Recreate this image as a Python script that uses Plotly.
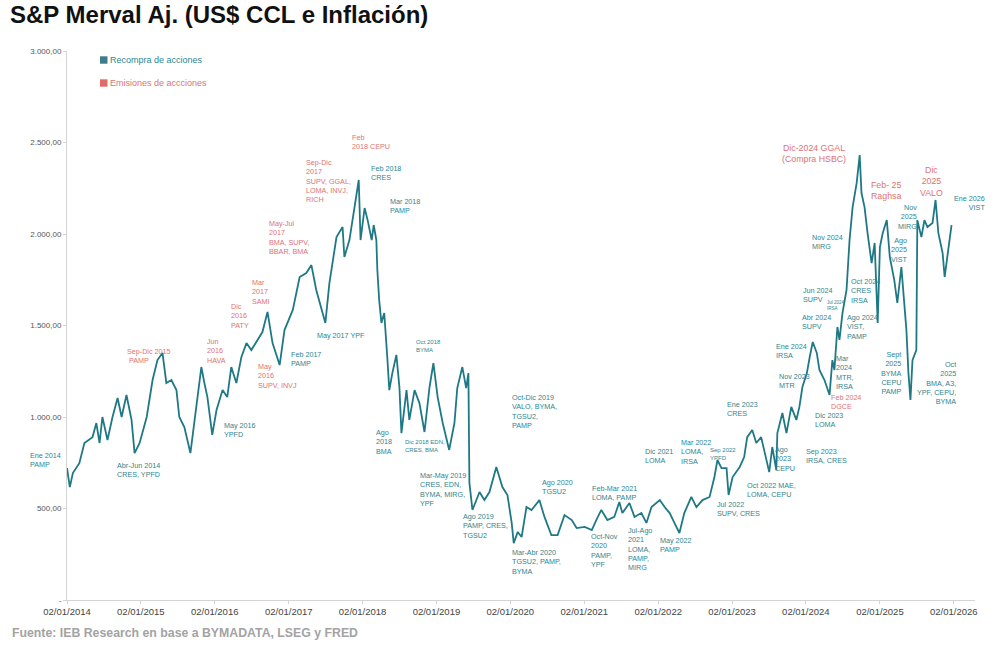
import plotly.graph_objects as go

# ---------------- data ----------------
DATES = [
    "2014-01-02", "2014-01-16", "2014-01-31", "2014-03-04", "2014-03-29", "2014-05-08", "2014-05-27",
    "2014-06-12", "2014-06-26", "2014-07-21", "2014-08-15", "2014-09-09", "2014-09-29", "2014-10-23",
    "2014-11-17", "2014-12-02", "2014-12-27", "2015-01-31", "2015-03-01", "2015-03-25", "2015-04-19",
    "2015-05-08", "2015-06-02", "2015-06-27", "2015-07-11", "2015-08-05", "2015-09-04", "2015-09-24",
    "2015-10-28", "2015-11-12", "2015-11-27", "2015-12-21", "2016-01-11", "2016-02-10", "2016-03-04",
    "2016-03-24", "2016-04-18", "2016-05-13", "2016-06-07", "2016-07-01", "2016-08-01", "2016-08-25",
    "2016-09-19", "2016-10-14", "2016-11-18", "2016-12-12", "2017-01-22", "2017-02-25", "2017-03-30",
    "2017-04-24", "2017-05-18", "2017-06-12", "2017-07-02", "2017-07-22", "2017-08-26", "2017-09-25",
    "2017-10-04", "2017-10-29", "2017-11-23", "2017-12-14", "2017-12-23", "2018-01-12", "2018-01-27",
    "2018-02-16", "2018-02-26", "2018-03-11", "2018-03-16", "2018-03-25", "2018-04-05", "2018-04-19",
    "2018-05-04", "2018-05-14", "2018-05-29", "2018-06-18", "2018-07-03", "2018-07-13", "2018-08-07",
    "2018-08-21", "2018-09-16", "2018-10-10", "2018-11-04", "2018-11-29", "2018-12-18", "2019-01-08",
    "2019-02-02", "2019-03-06", "2019-04-01", "2019-04-15", "2019-05-10", "2019-05-29", "2019-06-09",
    "2019-06-14", "2019-06-29", "2019-08-03", "2019-08-27", "2019-09-21", "2019-10-25", "2019-11-24",
    "2019-12-19", "2020-01-09", "2020-01-19", "2020-02-08", "2020-02-27", "2020-03-22", "2020-04-16",
    "2020-05-25", "2020-06-19", "2020-07-23", "2020-08-23", "2020-09-26", "2020-11-01", "2020-11-25",
    "2021-01-04", "2021-02-08", "2021-03-02", "2021-03-27", "2021-04-26", "2021-05-30", "2021-06-24",
    "2021-07-09", "2021-08-13", "2021-09-07", "2021-10-11", "2021-11-05", "2021-11-30", "2022-01-10",
    "2022-02-03", "2022-02-28", "2022-04-02", "2022-04-17", "2022-05-11", "2022-06-15", "2022-07-10",
    "2022-08-09", "2022-09-13", "2022-10-07", "2022-10-22", "2022-11-11", "2022-12-06", "2022-12-16",
    "2023-01-05", "2023-02-09", "2023-03-03", "2023-03-18", "2023-04-12", "2023-05-02", "2023-05-26",
    "2023-06-20", "2023-07-05", "2023-07-20", "2023-08-09", "2023-08-14", "2023-09-08", "2023-09-28",
    "2023-10-22", "2023-11-16", "2023-12-01", "2023-12-16", "2024-01-07", "2024-01-21", "2024-02-05",
    "2024-02-25", "2024-03-09", "2024-04-03", "2024-04-28", "2024-05-12", "2024-05-22", "2024-06-06",
    "2024-06-16", "2024-07-01", "2024-07-21", "2024-08-05", "2024-08-20", "2024-09-09", "2024-09-24",
    "2024-10-03", "2024-10-18", "2024-11-02", "2024-11-22", "2024-12-07", "2024-12-22", "2025-01-02",
    "2025-01-16", "2025-02-05", "2025-02-20", "2025-03-14", "2025-03-29", "2025-04-18", "2025-05-03",
    "2025-05-13", "2025-05-23", "2025-06-02", "2025-06-12", "2025-07-01", "2025-07-06", "2025-07-26",
    "2025-08-10", "2025-08-25", "2025-09-19", "2025-10-04", "2025-10-18", "2025-11-08", "2025-11-18",
    "2025-12-02", "2025-12-22",
]
MERVAL_USD = [
    721, 617, 694, 748, 858, 890, 967,
    858, 1000, 874, 1000, 1104, 1000, 1120,
    984, 803, 858, 1000, 1202, 1311, 1350,
    1186, 1202, 1147, 1000, 945, 803, 967,
    1273, 1186, 1109, 902, 1038, 1147, 1109,
    1273, 1186, 1328, 1404, 1366, 1421, 1464,
    1574, 1404, 1284, 1475, 1585, 1765, 1787,
    1830, 1694, 1601, 1514, 1732, 1983, 2038,
    1874, 1967, 2147, 2295, 1967, 2142, 2076,
    1967, 2049, 1967, 1803, 1639, 1514, 1568,
    1328, 1147, 1240, 1339, 1164, 912, 1147,
    984, 1147, 1076, 918, 1164, 1295, 1109,
    967, 820, 967, 1158, 1273, 1158, 1240,
    639, 492, 590, 546, 590, 727, 617,
    574, 421, 311, 372, 344, 508, 492,
    546, 454, 355, 355, 464, 437, 393,
    399, 382, 437, 492, 437, 454, 535,
    475, 530, 454, 475, 421, 508, 546,
    508, 475, 399, 366, 475, 563, 508,
    546, 563, 672, 765, 721, 721, 574,
    672, 727, 781, 890, 929, 858, 890,
    765, 699, 836, 710, 912, 1022, 912,
    1055, 984, 1055, 1164, 1240, 1328, 1410,
    1350, 1257, 1202, 1120, 1311, 1257, 1492,
    1421, 1568, 1694, 1967, 2147, 2278, 2431,
    2224, 2147, 2005, 1841, 1951, 1514, 1929,
    2005, 2076, 1874, 1748, 1623, 1819, 1639,
    1475, 1240, 1093, 1311, 1366, 2076, 1983,
    2076, 2038, 2060, 2186, 2005, 1896, 1765,
    1874, 2049,
]
YEAR_TICKS = list(range(2014, 2027))
Y_TICKS = [0, 500, 1000, 1500, 2000, 2500, 3000]
Y_TICKTEXT = ["-", "500,00", "1.000,00", "1.500,00", "2.000,00", "2.500,00", "3.000,00"]

TEAL_LINE = "#1f7985"
TEAL_TXT = "#2e8590"
RED_TXT = "#e07272"

# ---------------- layout helpers ----------------
L, R, T, B = 67, 975, 51, 600


def px(x):
    return (x - L) / (R - L)


def py(y):
    return (B - y) / (B - T)


FS = 7.2
# annotations: (text, x pixel, first-line center y pixel, colour, size, align)
NOTES = [
    ("Sep-Dic 2015<br>\u00a0PAMP", 127, 352, RED_TXT, FS, "left"),
    ("Jun<br>2016<br>HAVA", 207, 342, RED_TXT, FS, "left"),
    ("Dic<br>2016<br>PATY", 231, 307, RED_TXT, FS, "left"),
    ("Mar<br>2017<br>SAMI", 252, 283, RED_TXT, FS, "left"),
    ("May<br>2016<br>SUPV, INVJ", 258, 367, RED_TXT, FS, "left"),
    ("May-Jul<br>2017<br>BMA, SUPV,<br>BBAR, BMA", 269, 224, RED_TXT, FS, "left"),
    ("Sep-Dic<br>2017<br>SUPV, GGAL,<br>LOMA, INVJ,<br>RICH", 306, 163, RED_TXT, FS, "left"),
    ("Feb<br>2018 CEPU", 352, 138, RED_TXT, FS, "left"),
    ("Feb 2024<br>DGCE", 831, 398, RED_TXT, FS, "left"),
    ("Dic-2024 GGAL<br>(Compra HSBC)", 814, 149, RED_TXT, 8.8, "center"),
    ("Feb- 25<br>Raghsa", 886, 186, RED_TXT, 8.8, "center"),
    ("Dic<br>2025<br>VALO", 931, 171, RED_TXT, 8.8, "center"),
    ("Ene 2014<br>PAMP", 30, 456, TEAL_TXT, FS, "left"),
    ("Abr-Jun 2014<br>CRES, YPFD", 117, 466, TEAL_TXT, FS, "left"),
    ("May 2016<br>YPFD", 224, 426, TEAL_TXT, FS, "left"),
    ("Feb 2017<br>PAMP", 291, 355, TEAL_TXT, FS, "left"),
    ("May 2017 YPF", 317, 336, TEAL_TXT, FS, "left"),
    ("Feb 2018<br>CRES", 371, 169, TEAL_TXT, FS, "left"),
    ("Mar 2018<br>PAMP", 390, 202, TEAL_TXT, FS, "left"),
    ("Oct 2018<br>BYMA", 416, 343, TEAL_TXT, 6, "left"),
    ("Ago<br>2018<br>BMA", 376, 433, TEAL_TXT, FS, "left"),
    ("Dic 2018 EDN,<br>CRES, BMA", 405, 443, TEAL_TXT, 6, "left"),
    ("Mar-May 2019<br>CRES, EDN,<br>BYMA, MIRG,<br>YPF", 420, 476, TEAL_TXT, FS, "left"),
    ("Ago 2019<br>PAMP, CRES,<br>TGSU2", 463, 517, TEAL_TXT, FS, "left"),
    ("Oct-Dic 2019<br>VALO, BYMA,<br>TGSU2,<br>PAMP", 512, 398, TEAL_TXT, FS, "left"),
    ("Ago 2020<br>TGSU2", 542, 483, TEAL_TXT, FS, "left"),
    ("Mar-Abr 2020<br>TGSU2, PAMP,<br>BYMA", 512, 553, TEAL_TXT, FS, "left"),
    ("Feb-Mar 2021<br>LOMA, PAMP", 592, 489, TEAL_TXT, FS, "left"),
    ("Oct-Nov<br>2020<br>PAMP,<br>YPF", 591, 537, TEAL_TXT, FS, "left"),
    ("Jul-Ago<br>2021<br>LOMA,<br>PAMP,<br>MIRG", 628, 531, TEAL_TXT, FS, "left"),
    ("Dic 2021<br>LOMA", 645, 452, TEAL_TXT, FS, "left"),
    ("Mar 2022<br>LOMA,<br>IRSA", 681, 443, TEAL_TXT, FS, "left"),
    ("Sep 2022<br>YPFD", 710, 451, TEAL_TXT, 6, "left"),
    ("May 2022<br>PAMP", 660, 541, TEAL_TXT, FS, "left"),
    ("Jul 2022<br>SUPV, CRES", 717, 505, TEAL_TXT, FS, "left"),
    ("Oct 2022 MAE,<br>LOMA, CEPU", 747, 486, TEAL_TXT, FS, "left"),
    ("Ene 2023<br>CRES", 727, 405, TEAL_TXT, FS, "left"),
    ("Ago<br>2023<br>CEPU", 775, 450, TEAL_TXT, FS, "left"),
    ("Sep 2023<br>IRSA, CRES", 806, 452, TEAL_TXT, FS, "left"),
    ("Dic 2023<br>LOMA", 815, 416, TEAL_TXT, FS, "left"),
    ("Nov 2023<br>MTR", 779, 377, TEAL_TXT, FS, "left"),
    ("Ene 2024<br>IRSA", 776, 347, TEAL_TXT, FS, "left"),
    ("Mar<br>2024<br>MTR,<br>IRSA", 836, 359, TEAL_TXT, FS, "left"),
    ("Abr 2024<br>SUPV", 802, 318, TEAL_TXT, FS, "left"),
    ("Ago 2024<br>VIST,<br>PAMP", 847, 318, TEAL_TXT, FS, "left"),
    ("Jun 2024<br>SUPV", 803, 291, TEAL_TXT, FS, "left"),
    ("Jul 2024<br>IRSA", 827, 303, TEAL_TXT, 4.5, "left"),
    ("Oct 2024<br>CRES<br>IRSA", 851, 282, TEAL_TXT, FS, "left"),
    ("Nov 2024<br>MIRG", 812, 238, TEAL_TXT, FS, "left"),
    ("Ago<br>2025<br>VIST", 908, 241, TEAL_TXT, FS, "right"),
    ("Nov<br>2025<br>MIRG", 917, 208, TEAL_TXT, FS, "right"),
    ("Ene 2026<br>VIST", 985, 199, TEAL_TXT, FS, "right"),
    ("Sept<br>2025<br>BYMA<br>CEPU<br>PAMP", 902, 355, TEAL_TXT, FS, "right"),
    ("Oct<br>2025<br>BMA, A3,<br>YPF, CEPU,<br>BYMA", 956, 365, TEAL_TXT, FS, "right"),
]

FONT = "Liberation Sans, Arial, sans-serif"

fig = go.Figure()
fig.add_trace(go.Scatter(
    x=DATES, y=MERVAL_USD, mode="lines",
    line=dict(color=TEAL_LINE, width=1.8),
    showlegend=False, hoverinfo="x+y",
))

annotations = []
for text, x, yc, col, fs, al in NOTES:
    annotations.append(dict(
        text=text, x=px(x), y=py(yc - 0.65 * fs), xref="paper", yref="paper",
        xanchor=al, yanchor="top", align=al, showarrow=False,
        borderpad=0, borderwidth=0,
        font=dict(family=FONT, size=fs, color=col),
    ))

# legend (squares + labels)
LEGEND = [("Recompra de acciones", "#3f7d8c", TEAL_TXT, 60),
          ("Emisiones de accciones", "#e06a6a", RED_TXT, 83)]
shapes = []
for label, sq, col, yc in LEGEND:
    shapes.append(dict(type="rect", xref="paper", yref="paper",
                       x0=px(100), x1=px(107.5), y0=py(yc + 3.7), y1=py(yc - 3.7),
                       fillcolor=sq, line=dict(width=0)))
    annotations.append(dict(text=label, x=px(109.5), y=py(yc), xref="paper", yref="paper",
                            xanchor="left", yanchor="middle", showarrow=False,
                            borderpad=0, borderwidth=0,
                            font=dict(family=FONT, size=9, color=col)))

# footer
annotations.append(dict(
    text="<b>Fuente: IEB Research en base a BYMADATA, LSEG y FRED</b>",
    x=px(10), y=py(633), xref="paper", yref="paper",
    showarrow=False, xanchor="left", yanchor="middle",
    font=dict(family=FONT, size=12.3, color="#a3a3a3"),
))

fig.update_layout(
    width=1000, height=648,
    margin=dict(l=L, r=1000 - R, t=T, b=648 - B),
    paper_bgcolor="white", plot_bgcolor="white",
    title=dict(text="<b>S&P Merval Aj. (US$ CCL e Inflación)</b>",
               x=10 / 1000, xref="container", xanchor="left",
               y=1 - 15 / 648, yref="container", yanchor="middle",
               font=dict(family=FONT, size=24, color="#111111")),
    annotations=annotations, shapes=shapes,
    xaxis=dict(
        type="date", range=["2014-01-02", "2026-04-17"],
        tickvals=[f"{y}-01-02" for y in YEAR_TICKS],
        ticktext=[f"02/01/{y}" for y in YEAR_TICKS],
        showgrid=False, zeroline=False,
        showline=True, linecolor="#d4d4d4", linewidth=1,
        ticks="outside", ticklen=3, tickcolor="#d4d4d4",
        tickfont=dict(family=FONT, size=9.5, color="#444444"),
    ),
    yaxis=dict(
        range=[0, 3000], tickvals=Y_TICKS, ticktext=Y_TICKTEXT,
        showgrid=False, zeroline=False,
        showline=True, linecolor="#d4d4d4", linewidth=1,
        ticks="outside", ticklen=3, tickcolor="#d4d4d4",
        tickfont=dict(family=FONT, size=8, color="#555555"),
    ),
)

fig.write_html("out.html")
